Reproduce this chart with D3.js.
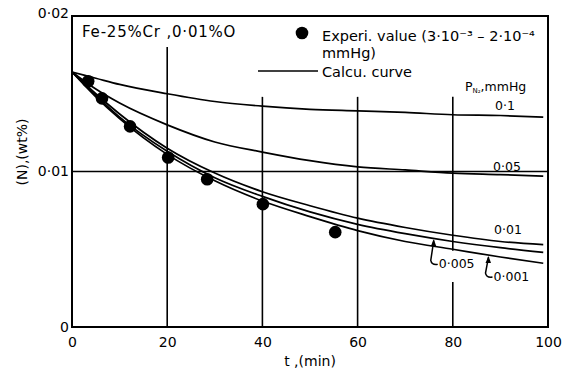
<!DOCTYPE html>
<html>
<head>
<meta charset="utf-8">
<script src="https://cdn.jsdelivr.net/npm/d3@7"></script>
<style>
  body { margin: 0; background: #fff; }
  svg { display: block; }
  text { font-family: "DejaVu Sans", sans-serif; fill: #000; }
</style>
</head>
<body>
<div id="chart"></div>
<script>
// time axis (min) and nitrogen content (wt%)
var xTicks = [0, 20, 40, 60, 80, 100];
var yTicks = [0, 0.01, 0.02];

// measured points (3e-3 - 2e-4 mmHg)
var expT = [3.4, 6.3, 12.2, 20.2, 28.4, 40.1, 55.3];
var expN = [0.0158, 0.0147, 0.0129, 0.0109, 0.0095, 0.0079, 0.0061];

// calculated curves, one per nitrogen partial pressure
var curveT = [0, 5, 10, 20, 30, 40, 50, 60, 70, 80, 90, 99];
var pressures = ["0·1", "0·05", "0·01", "0·005", "0·001"];
var curveN = [
    [0.0164, 0.0160, 0.0156, 0.0150, 0.0145, 0.0142, 0.0140, 0.0139, 0.0138, 0.01365, 0.0136, 0.0135],
    [0.0164, 0.0153, 0.0144, 0.0130, 0.0119, 0.01125, 0.0107, 0.0103, 0.0101, 0.0099, 0.0098, 0.0097],
    [0.0164, 0.0150, 0.0137, 0.0115, 0.0099, 0.0087, 0.0078, 0.0070, 0.0064, 0.0059, 0.0055, 0.0053],
    [0.0164, 0.0149, 0.0135, 0.0113, 0.0096, 0.0084, 0.0074, 0.0066, 0.0060, 0.0055, 0.0051, 0.0048],
    [0.0164, 0.0148, 0.0134, 0.0111, 0.0094, 0.0081, 0.0071, 0.0062, 0.0055, 0.0050, 0.0045, 0.0041]
];

var width = 570, height = 372;
var margin = {top: 16, right: 22, bottom: 45, left: 72};

var svg = d3.select('#chart').append('svg')
    .attr('width', width)
    .attr('height', height);

var x = d3.scaleLinear().domain([0, 100]).range([margin.left, width - margin.right]);
var y = d3.scaleLinear().domain([0, 0.02]).range([height - margin.bottom, margin.top]);

var fmt = function (d) { return d === 0 ? "0" : d3.format(".2f")(d).replace(".", "·"); };

// partial grid lines (left open where the legend text sits)
var grid = svg.append('g').attr('stroke', '#000').attr('stroke-width', 1.6);
grid.append('line')
    .attr('x1', x(0)).attr('x2', x(100))
    .attr('y1', y(0.01)).attr('y2', y(0.01));
[[20, 0.018], [40, 0.0148], [60, 0.0148]].forEach(function (g) {
    grid.append('line')
        .attr('x1', x(g[0])).attr('x2', x(g[0]))
        .attr('y1', y(g[1])).attr('y2', y(0));
});
grid.append('line')
    .attr('x1', x(80)).attr('x2', x(80))
    .attr('y1', y(0.0148)).attr('y2', y(0.0049));
grid.append('line')
    .attr('x1', x(80)).attr('x2', x(80))
    .attr('y1', y(0.0029)).attr('y2', y(0));

// frame
svg.append('rect')
    .attr('x', x(0)).attr('y', y(0.02))
    .attr('width', x(100) - x(0)).attr('height', y(0) - y(0.02))
    .attr('fill', 'none').attr('stroke', '#000').attr('stroke-width', 2);

// axes (labels only, frame drawn above)
var xAxis = svg.append('g')
    .attr('transform', 'translate(0,' + y(0) + ')')
    .call(d3.axisBottom(x).tickValues(xTicks).tickSize(0).tickPadding(10).tickFormat(d3.format('d')));
var yAxis = svg.append('g')
    .attr('transform', 'translate(' + x(0) + ',0)')
    .call(d3.axisLeft(y).tickValues(yTicks).tickSize(0).tickPadding(3).tickFormat(fmt));
[xAxis, yAxis].forEach(function (a) {
    a.select('.domain').remove();
    a.selectAll('text').attr('font-family', '"DejaVu Sans", sans-serif').attr('font-size', 14).attr('fill', '#000');
});
yAxis.selectAll('.tick text').attr('dy', function (d) { return d === 0.02 ? '0.1em' : '0.32em'; });

svg.append('text')
    .attr('x', 310).attr('y', 366)
    .attr('text-anchor', 'middle')
    .attr('font-size', 14)
    .text('t ,(min)');
svg.append('text')
    .attr('transform', 'translate(27,152) rotate(-90)')
    .attr('text-anchor', 'middle')
    .attr('font-size', 14)
    .text('(N),(wt%)');

// calculated curves
var line = d3.line()
    .x(function (d) { return x(d[0]); })
    .y(function (d) { return y(d[1]); })
    .curve(d3.curveMonotoneX);

svg.append('g').selectAll('path')
    .data(curveN)
    .enter().append('path')
    .attr('d', function (vals) { return line(vals.map(function (v, i) { return [curveT[i], v]; })); })
    .attr('fill', 'none')
    .attr('stroke', '#000')
    .attr('stroke-width', 1.7);

// experimental points
svg.append('g').selectAll('circle')
    .data(expT)
    .enter().append('circle')
    .attr('cx', function (d) { return x(d); })
    .attr('cy', function (d, i) { return y(expN[i]); })
    .attr('r', 6.3)
    .attr('fill', '#000');

// curve labels
var labelPos = [[505, 110], [507, 171], [508, 234]];
labelPos.forEach(function (p, i) {
    svg.append('text')
        .attr('x', p[0]).attr('y', p[1])
        .attr('text-anchor', 'middle')
        .attr('font-size', 12.5)
        .text(pressures[i]);
});

var pLabel = svg.append('text').attr('x', 465).attr('y', 91).attr('font-size', 12.5);
pLabel.append('tspan').text('P');
pLabel.append('tspan').attr('font-size', 7).attr('dy', 2).text('N₂');
pLabel.append('tspan').attr('dy', -2).text(',mmHg');

// hooked arrows for the lowest two curves
var interp = function (vals, t) {
    return d3.scaleLinear().domain(curveT).range(vals)(t);
};
[[3, 76, 20], [4, 87.5, 16]].forEach(function (a) {
    var tx = x(a[1]), ty = y(interp(curveN[a[0]], a[1])) + 2;
    svg.append('path')
        .attr('d', 'M' + tx + ',' + ty + ' L' + (tx - 3) + ',' + (ty + a[2]) +
            ' Q' + (tx - 2) + ',' + (ty + a[2] + 5) + ' ' + (tx + 4) + ',' + (ty + a[2] + 4))
        .attr('fill', 'none').attr('stroke', '#000').attr('stroke-width', 1.5);
    svg.append('path')
        .attr('d', 'M' + tx + ',' + (ty - 1) + ' L' + (tx - 3) + ',' + (ty + 6) + ' L' + (tx + 2.5) + ',' + (ty + 6) + 'Z')
        .attr('fill', '#000');
    svg.append('text')
        .attr('x', tx + 5).attr('y', ty + a[2] + 8)
        .attr('font-size', 12.5)
        .text(pressures[a[0]]);
});

// legend
svg.append('text').attr('x', 82).attr('y', 37).attr('font-size', 15).attr('letter-spacing', 0.8)
    .text('Fe-25%Cr ,0·01%O');
svg.append('circle').attr('cx', 302).attr('cy', 33).attr('r', 6.3).attr('fill', '#000');
svg.append('text').attr('x', 322).attr('y', 41).attr('font-size', 14.5)
    .text('Experi. value (3·10⁻³ – 2·10⁻⁴');
svg.append('text').attr('x', 322).attr('y', 58).attr('font-size', 14.5)
    .text('mmHg)');
svg.append('line')
    .attr('x1', 258).attr('x2', 318).attr('y1', 71).attr('y2', 71)
    .attr('stroke', '#000').attr('stroke-width', 1.7);
svg.append('text').attr('x', 322).attr('y', 77).attr('font-size', 14.5)
    .text('Calcu. curve');
</script>
</body>
</html>
